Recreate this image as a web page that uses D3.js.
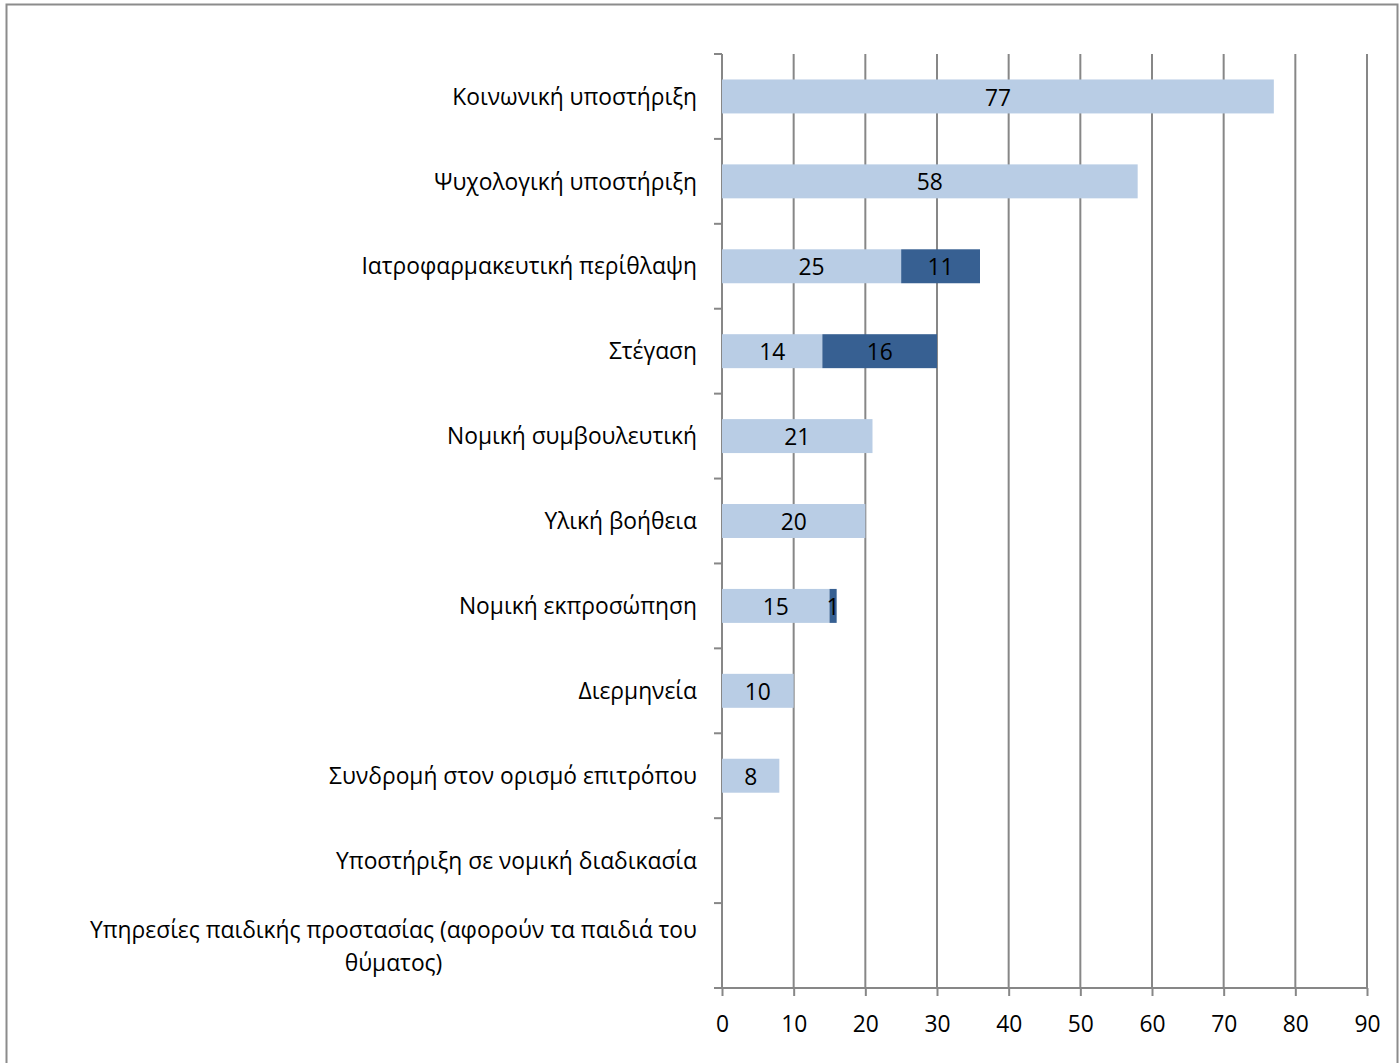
<!DOCTYPE html>
<html>
<head>
<meta charset="utf-8">
<script src="https://cdn.jsdelivr.net/npm/d3@7"></script>
<style>
  body { margin:0; background:#fff; }
  text { font-family: "Open Sans", "Noto Sans", sans-serif; fill:#000; }
</style>
</head>
<body>
<div id="canvas"></div>
<script>
// categories, top to bottom
var categories = [
  'Κοινωνική υποστήριξη',
  'Ψυχολογική υποστήριξη',
  'Ιατροφαρμακευτική περίθλαψη',
  'Στέγαση',
  'Νομική συμβουλευτική',
  'Υλική βοήθεια',
  'Νομική εκπροσώπηση',
  'Διερμηνεία',
  'Συνδρομή στον ορισμό επιτρόπου',
  'Υποστήριξη σε νομική διαδικασία',
  'Υπηρεσίες παιδικής προστασίας (αφορούν τα παιδιά του θύματος)'
];
var series1 = [77, 58, 25, 14, 21, 20, 15, 10, 8, 0, 0];
var series2 = [0, 0, 11, 16, 0, 0, 1, 0, 0, 0, 0];
var xTicks = [0, 10, 20, 30, 40, 50, 60, 70, 80, 90];

var W = 1400, H = 1063;
var m = {t:54, r:33, b:75, l:722};
var w = 1367 - m.l, h = 988 - m.t;
var fs = '22.8px';

var svg = d3.select('#canvas').append('svg')
    .attr('width', W).attr('height', H);

// outer chart border
svg.append('rect')
    .attr('x', 6.5).attr('y', 4.5)
    .attr('width', 1391).attr('height', 1070)
    .style('fill', 'none').style('stroke', '#8c8c8c').style('stroke-width', 2);

var plot = svg.append('g').attr('transform', 'translate(' + m.l + ',' + m.t + ')');

var scaleX = d3.scaleLinear().domain([0, 90]).range([0, w]);
var scaleY = d3.scaleBand().domain(categories).range([0, h])
    .paddingInner(0.6).paddingOuter(0.3);

// vertical gridlines
plot.selectAll('.grid').data(xTicks.slice(1)).enter().append('line')
    .attr('class', 'grid')
    .attr('x1', function(d){ return scaleX(d); }).attr('x2', function(d){ return scaleX(d); })
    .attr('y1', 0).attr('y2', h)
    .style('stroke', '#878787').style('stroke-width', 2);

// x axis
var axisX = d3.axisBottom(scaleX).tickValues(xTicks).tickSize(8).tickPadding(20);
var gx = plot.append('g').attr('transform', 'translate(0,' + h + ')').call(axisX);
gx.select('.domain').remove();
gx.selectAll('.tick line').style('stroke', '#878787').style('stroke-width', 2);
gx.selectAll('.tick text').style('font-size', fs).style('font-family', '"Open Sans", sans-serif');
gx.append('line').attr('x1', -8).attr('x2', w).attr('y1', 0).attr('y2', 0)
    .style('stroke', '#878787').style('stroke-width', 2);

// y axis with ticks at category boundaries
var step = scaleY.step();
var bounds = d3.range(categories.length + 1).map(function(i){ return i * step; });
plot.append('line').attr('x1', 0).attr('x2', 0).attr('y1', 0).attr('y2', h)
    .style('stroke', '#878787').style('stroke-width', 2);
plot.selectAll('.ytick').data(bounds).enter().append('line')
    .attr('class', 'ytick')
    .attr('x1', -8).attr('x2', 0)
    .attr('y1', function(d){ return d; }).attr('y2', function(d){ return d; })
    .style('stroke', '#878787').style('stroke-width', 2);

// bars
var rows = categories.map(function(c, i){
  return {cat: c, a: series1[i], b: series2[i]};
});

var bar = plot.selectAll('.bar').data(rows).enter().append('g')
    .attr('class', 'bar')
    .attr('transform', function(d){ return 'translate(0,' + scaleY(d.cat) + ')'; });

bar.filter(function(d){ return d.a > 0; }).append('rect')
    .attr('x', 0).attr('y', 0)
    .attr('width', function(d){ return scaleX(d.a); })
    .attr('height', scaleY.bandwidth())
    .style('fill', '#b9cde5');
bar.filter(function(d){ return d.b > 0; }).append('rect')
    .attr('x', function(d){ return scaleX(d.a); }).attr('y', 0)
    .attr('width', function(d){ return scaleX(d.b); })
    .attr('height', scaleY.bandwidth())
    .style('fill', '#376092');

bar.filter(function(d){ return d.a > 0; }).append('text')
    .attr('x', function(d){ return scaleX(d.a / 2); })
    .attr('y', scaleY.bandwidth() / 2)
    .attr('dy', '0.4em')
    .attr('text-anchor', 'middle')
    .style('font-size', fs)
    .text(function(d){ return d.a; });
bar.filter(function(d){ return d.b > 0; }).append('text')
    .attr('x', function(d){ return scaleX(d.a + d.b / 2); })
    .attr('y', scaleY.bandwidth() / 2)
    .attr('dy', '0.4em')
    .attr('text-anchor', 'middle')
    .style('font-size', fs)
    .text(function(d){ return d.b; });

// category labels
var labelX = -25;
plot.selectAll('.cat').data(rows.slice(0, categories.length - 1)).enter().append('text')
    .attr('class', 'cat')
    .attr('x', labelX)
    .attr('y', function(d){ return scaleY(d.cat) + scaleY.bandwidth() / 2; })
    .attr('dy', '0.36em')
    .attr('text-anchor', 'end')
    .style('font-size', fs)
    .text(function(d){ return d.cat; });

// last label wraps onto two lines, centred as a block
var last = categories[categories.length - 1];
var lines = ['Υπηρεσίες παιδικής προστασίας (αφορούν τα παιδιά του', 'θύματος)'];
var lastG = plot.append('g');
var t1 = lastG.append('text').attr('text-anchor', 'middle').style('font-size', fs).text(lines[0]);
var lw = t1.node().getComputedTextLength();
var cx = labelX - lw / 2;
var cy = scaleY(last) + scaleY.bandwidth() / 2;
t1.attr('x', cx).attr('y', cy - 16).attr('dy', '0.36em');
lastG.append('text').attr('text-anchor', 'middle').style('font-size', fs)
    .attr('x', cx).attr('y', cy + 17).attr('dy', '0.36em').text(lines[1]);
</script>
</body>
</html>
